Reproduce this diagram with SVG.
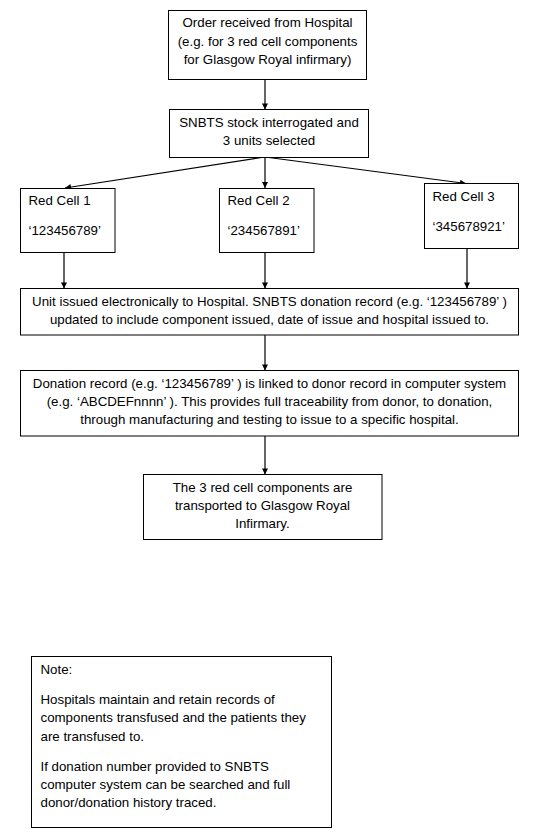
<svg xmlns="http://www.w3.org/2000/svg" width="538" height="835" viewBox="0 0 538 835">
<style>
.box{fill:#fff;stroke:#000;stroke-width:1}
text{font-family:"Liberation Sans",Arial,sans-serif;font-size:13.3px;fill:#000}
.c{text-anchor:middle}
.con{stroke:#000;stroke-width:1.2;fill:none}
</style>
<defs>
<marker id="ah" viewBox="0 0 10 10" refX="10" refY="5" markerWidth="7" markerHeight="6" markerUnits="userSpaceOnUse" orient="auto">
<path d="M0,0 L10,5 L0,10 z" fill="#000"/>
</marker>
</defs>
<rect width="538" height="835" fill="#fff"/>
<g id="connectors">
<line class="con" x1="265" y1="79" x2="265" y2="109.5" marker-end="url(#ah)"/>
<line class="con" x1="265" y1="157" x2="65" y2="188" marker-end="url(#ah)"/>
<line class="con" x1="265" y1="157" x2="265" y2="188" marker-end="url(#ah)"/>
<line class="con" x1="265" y1="157" x2="466" y2="183.5" marker-end="url(#ah)"/>
<line class="con" x1="64" y1="252" x2="64" y2="288.5" marker-end="url(#ah)"/>
<line class="con" x1="265" y1="252" x2="265" y2="288.5" marker-end="url(#ah)"/>
<line class="con" x1="467" y1="248" x2="467" y2="288.5" marker-end="url(#ah)"/>
<line class="con" x1="265" y1="335" x2="265" y2="370.5" marker-end="url(#ah)"/>
<line class="con" x1="265" y1="436" x2="265" y2="474.5" marker-end="url(#ah)"/>
</g>
<g id="order">
<rect class="box" x="168.5" y="10.5" width="198" height="69"/>
<text class="c" x="267.5" y="27">Order received from Hospital</text>
<text class="c" x="267.5" y="45.5">(e.g. for 3 red cell components</text>
<text class="c" x="267.5" y="64">for Glasgow Royal infirmary)</text>
</g>
<g id="stock">
<rect class="box" x="169.5" y="109.5" width="199" height="48"/>
<text class="c" x="269" y="127">SNBTS stock interrogated and</text>
<text class="c" x="269" y="145">3 units selected</text>
</g>
<g id="rc1">
<rect class="box" x="20.5" y="188.5" width="94.5" height="64"/>
<text x="28.5" y="205">Red Cell 1</text>
<text x="28.5" y="235">‘123456789’</text>
</g>
<g id="rc2">
<rect class="box" x="219.5" y="188.5" width="94.5" height="64"/>
<text x="227.5" y="205">Red Cell 2</text>
<text x="227.5" y="235">‘234567891’</text>
</g>
<g id="rc3">
<rect class="box" x="424.5" y="183.5" width="94" height="65"/>
<text x="432.5" y="201">Red Cell 3</text>
<text x="432.5" y="231">‘345678921’</text>
</g>
<g id="issued">
<rect class="box" x="20.5" y="288.5" width="498" height="46.5"/>
<text class="c" x="269.5" y="306">Unit issued electronically to Hospital. SNBTS donation record (e.g. ‘123456789’ )</text>
<text class="c" x="269.5" y="324">updated to include component issued, date of issue and hospital issued to.</text>
</g>
<g id="linked">
<rect class="box" x="20.5" y="370.5" width="498" height="65.5"/>
<text class="c" x="269.5" y="388">Donation record (e.g. ‘123456789’ ) is linked to donor record in computer system</text>
<text class="c" x="269.5" y="406">(e.g. ‘ABCDEFnnnn’ ). This provides full traceability from donor, to donation,</text>
<text class="c" x="269.5" y="424">through manufacturing and testing to issue to a specific hospital.</text>
</g>
<g id="transported">
<rect class="box" x="143.5" y="474.5" width="238.5" height="65"/>
<text class="c" x="262.5" y="492">The 3 red cell components are</text>
<text class="c" x="262.5" y="510">transported to Glasgow Royal</text>
<text class="c" x="262.5" y="528">Infirmary.</text>
</g>
<g id="note">
<rect class="box" x="31.5" y="656.5" width="300" height="171"/>
<text x="40.5" y="674">Note:</text>
<text x="40.5" y="704">Hospitals maintain and retain records of</text>
<text x="40.5" y="722">components transfused and the patients they</text>
<text x="40.5" y="740.5">are transfused to.</text>
<text x="40.5" y="770.5">If donation number provided to SNBTS</text>
<text x="40.5" y="788.5">computer system can be searched and full</text>
<text x="40.5" y="806.5">donor/donation history traced.</text>
</g>
</svg>
